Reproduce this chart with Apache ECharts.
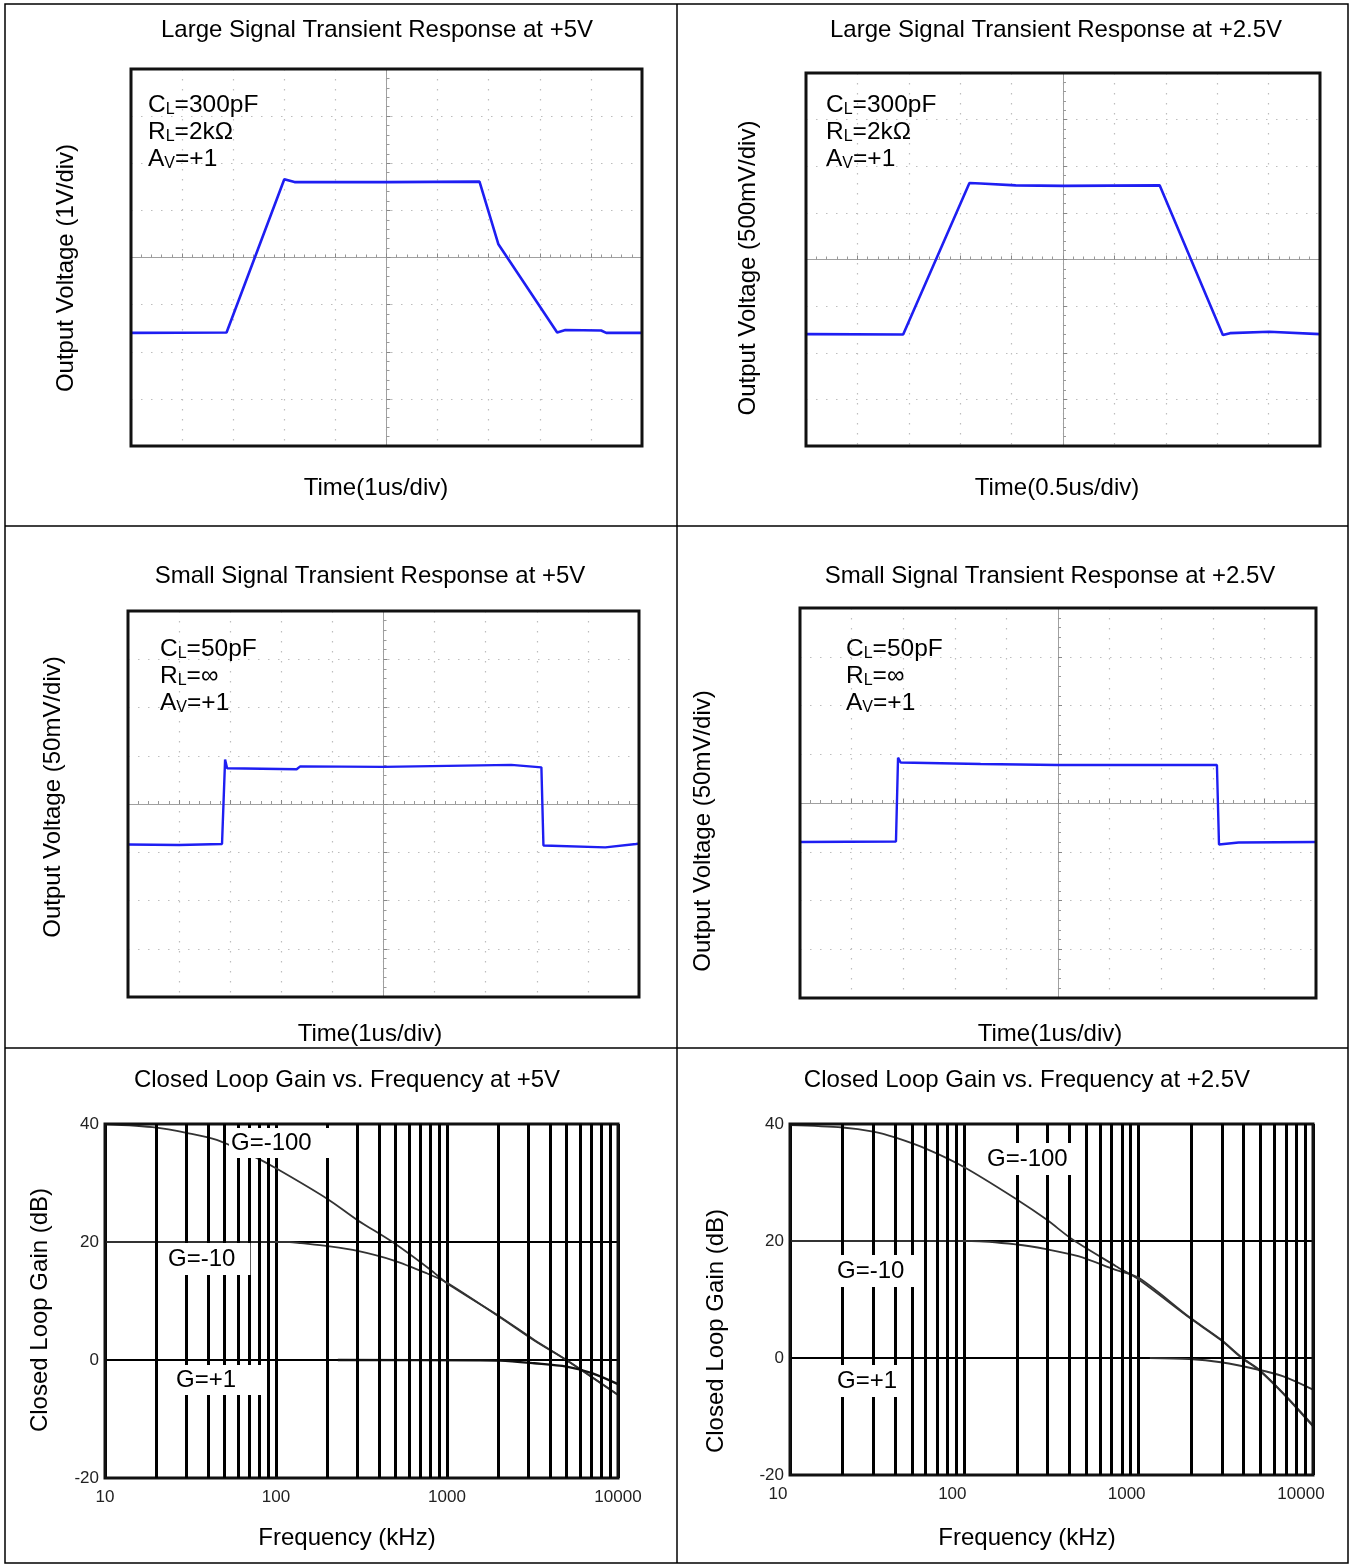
<!DOCTYPE html>
<html>
<head>
<meta charset="utf-8">
<script src="https://cdn.jsdelivr.net/npm/echarts@6.0.0/dist/echarts.min.js"></script>
<style>
  html, body { margin: 0; background: #fff; }
  #chart { width: 1349px; height: 1564px; }
</style>
</head>
<body>
<div id="chart"></div>
<script>
// scope traces, in screen divisions measured from the centre of the screen
const largeTrace5V = [[-5, -1.6], [-3.13, -1.59], [-2.0, 1.66], [-1.8, 1.6], [0, 1.6], [1.82, 1.61], [2.19, 0.28], [3.34, -1.59], [3.5, -1.54], [4.2, -1.55], [4.3, -1.6], [5, -1.6]];
const largeTrace25V = [[-5, -1.6], [-3.11, -1.61], [-1.82, 1.64], [-1.6, 1.63], [-0.92, 1.59], [0, 1.58], [1.88, 1.59], [3.11, -1.62], [3.25, -1.58], [4.01, -1.55], [5, -1.6]];
const smallTrace5V = [[-5, -0.84], [-4, -0.85], [-3.16, -0.83], [-3.1, 0.92], [-3.06, 0.74], [-1.7, 0.72], [-1.63, 0.78], [0, 0.77], [2.5, 0.81], [3.09, 0.76], [3.13, -0.86], [4.34, -0.9], [4.94, -0.83], [5, -0.82]];
const smallTrace25V = [[-5, -0.8], [-3.14, -0.79], [-3.1, 0.93], [-3.05, 0.83], [-1.5, 0.8], [0, 0.78], [3.08, 0.78], [3.12, -0.85], [3.5, -0.81], [5, -0.8]];

// closed loop gain, [frequency kHz, gain dB]
const gain5V_G100 = [[10, 40], [20, 39.4], [30, 38.5], [45, 37.3], [73, 34.6], [100, 32.5], [200, 27.3], [300, 23.7], [485, 19.9], [800, 15.3], [1000, 13.0], [2050, 7.3], [3240, 3.4], [5000, 0], [10000, -5.9]];
const gain5V_G10 = [[10, 20], [120, 20], [140, 19.8], [200, 19.3], [300, 18.5], [485, 16.9], [760, 14.7], [1000, 13.1], [2050, 7.2], [3240, 3.3], [5000, -0.05], [10000, -5.95]];
const gain5V_G1 = [[230, 0], [1500, -0.05], [2050, -0.1], [3240, -0.56], [5000, -1.13], [7100, -2.26], [10000, -4.1]];
const gain25V_G100 = [[10, 39.8], [20, 39.4], [30, 38.7], [40, 37.7], [61, 35.7], [100, 32.6], [200, 27.1], [295, 23.7], [420, 20.2], [741, 15.7], [1000, 13.4], [1950, 6.9], [2950, 3.1], [3900, 0], [4870, -2], [6700, -6], [10000, -11.7]];
const gain25V_G10 = [[10, 20], [110, 20], [200, 19.4], [295, 18.6], [450, 17.4], [730, 15.1], [1000, 13.7], [1950, 7.0], [2950, 3.2], [3900, 0.1], [4870, -1.9], [6700, -5.9], [10000, -11.5]];
const gain25V_G1 = [[1160, 0], [1950, -0.17], [2960, -0.74], [4870, -2.0], [6700, -3.1], [10000, -5.4]];

const logGridLines = [20, 30, 40, 50, 60, 70, 80, 90, 200, 300, 400, 500, 600, 700, 800, 900, 2000, 3000, 4000, 5000, 6000, 7000, 8000, 9000];
const freqTicks = [10, 100, 1000, 10000];

const FONT = '"Liberation Sans", Arial, sans-serif';
const BLUE = '#1e1ef2';
const BIG = 24;

const chart = echarts.init(document.getElementById('chart'));

const grids = [
  { left: 131, top: 69, width: 511, height: 377 },
  { left: 806, top: 73, width: 514, height: 373 },
  { left: 128, top: 611, width: 511, height: 386 },
  { left: 800, top: 608, width: 516, height: 390 },
  { left: 105, top: 1124, width: 513, height: 354 },
  { left: 790, top: 1124, width: 523, height: 351 }
].map(g => Object.assign({ show: true, borderColor: '#111', borderWidth: 3, backgroundColor: 'transparent', z: 4 }, g));

function scopeAxis(i, half) {
  return {
    gridIndex: i, type: 'value', min: -half, max: half, interval: 1,
    axisLabel: { show: false },
    axisLine: { onZero: true, lineStyle: { color: '#a0a0a0', width: 1 } },
    axisTick: { show: true, inside: true, length: 4, lineStyle: { color: '#888' } },
    minorTick: { show: true, splitNumber: 5, length: 3, lineStyle: { color: '#999' } },
    splitLine: { show: true, showMinLine: false, showMaxLine: false, lineStyle: { color: '#bdbdbd', type: [1.5, 8.5], width: 1.2 } }
  };
}

function freqAxis(i, shift) {
  return {
    gridIndex: i, type: 'log', logBase: 10, min: 10, max: 10000,
    axisLine: { show: false }, axisTick: { show: false },
    axisLabel: {
      fontSize: 17, color: '#222', fontFamily: FONT, margin: 11,
      padding: [0, shift, 0, 0],
      formatter: v => String(freqTicks.find(t => Math.abs(t - v) < 1) || Math.round(v))
    },
    splitLine: { show: true, lineStyle: { color: '#000', width: 3 } }
  };
}

function gainAxis(i) {
  return {
    gridIndex: i, type: 'value', min: -20, max: 40, interval: 20,
    axisLine: { show: false }, axisTick: { show: false },
    axisLabel: { fontSize: 17, color: '#222', fontFamily: FONT, margin: 6 },
    splitLine: { show: true, lineStyle: { color: '#000', width: 2 } }
  };
}

function trace(i, data, width) {
  return {
    type: 'line', xAxisIndex: i, yAxisIndex: i, data: data,
    showSymbol: false, symbol: 'none', z: 3,
    lineStyle: { color: BLUE, width: width }
  };
}

function gridLines(i) {
  return {
    type: 'line', xAxisIndex: i, yAxisIndex: i, data: [], z: 2,
    markLine: {
      silent: true, symbol: ['none', 'none'], animation: false,
      label: { show: false },
      lineStyle: { color: '#000', width: 3, type: 'solid' },
      data: logGridLines.map(v => ({ xAxis: v }))
    }
  };
}

function curve(i, data, width, color) {
  return {
    type: 'line', xAxisIndex: i, yAxisIndex: i, data: data,
    showSymbol: false, symbol: 'none', smooth: 0.3, z: 3,
    lineStyle: { color: color, width: width }
  };
}

function text(x, y, s, size, extra) {
  return Object.assign({
    type: 'text', x: x, y: y, z: 100,
    style: Object.assign({
      text: s, font: size + 'px ' + FONT, fill: '#000',
      align: 'center', verticalAlign: 'middle', textAlign: 'center', textVerticalAlign: 'middle'
    }, extra && extra.style)
  }, extra && extra.el);
}

function note(x, y, lines) {
  const rich = {
    a: { fontSize: 24.5, fontFamily: FONT, lineHeight: 27, verticalAlign: 'bottom', fill: '#000', color: '#000' },
    s: { fontSize: 16, fontFamily: FONT, lineHeight: 21, verticalAlign: 'bottom', fill: '#000', color: '#000' }
  };
  return {
    type: 'text', x: x, y: y, z: 100,
    style: {
      text: lines.map(l => '{a|' + l[0] + '}{s|' + l[1] + '}{a|' + l[2] + '}').join('\n'),
      rich: rich, fill: '#000', align: 'left', verticalAlign: 'top', textAlign: 'left', textVerticalAlign: 'top'
    }
  };
}

function tag(x, y, s, pad) {
  return text(x, y, s, BIG, { style: { align: 'left', textAlign: 'left', backgroundColor: '#fff', padding: pad } });
}

const vert = { el: { rotation: Math.PI / 2 } };

const graphics = [
  { type: 'rect', z: 100, shape: { x: 5, y: 4, width: 1343, height: 1559 }, style: { fill: 'none', stroke: '#000', lineWidth: 1.5 } },
  { type: 'line', z: 100, shape: { x1: 677, y1: 4, x2: 677, y2: 1563 }, style: { stroke: '#000', lineWidth: 1.5 } },
  { type: 'line', z: 100, shape: { x1: 5, y1: 526, x2: 1348, y2: 526 }, style: { stroke: '#000', lineWidth: 1.5 } },
  { type: 'line', z: 100, shape: { x1: 5, y1: 1048, x2: 1348, y2: 1048 }, style: { stroke: '#000', lineWidth: 1.5 } },

  text(377, 30, 'Large Signal Transient Response at +5V', BIG),
  text(1056, 30, 'Large Signal Transient Response at +2.5V', BIG),
  text(370, 576, 'Small Signal Transient Response at +5V', BIG),
  text(1050, 576, 'Small Signal Transient Response at +2.5V', BIG),
  text(347, 1080, 'Closed Loop Gain vs. Frequency at +5V', BIG),
  text(1027, 1080, 'Closed Loop Gain vs. Frequency at +2.5V', BIG),

  text(376, 488, 'Time(1us/div)', BIG),
  text(1057, 488, 'Time(0.5us/div)', BIG),
  text(370, 1034, 'Time(1us/div)', BIG),
  text(1050, 1034, 'Time(1us/div)', BIG),
  text(347, 1538, 'Frequency (kHz)', BIG),
  text(1027, 1538, 'Frequency (kHz)', BIG),

  text(66, 268, 'Output Voltage (1V/div)', BIG, vert),
  text(748, 268, 'Output Voltage (500mV/div)', BIG, vert),
  text(53, 797, 'Output Voltage (50mV/div)', BIG, vert),
  text(703, 831, 'Output Voltage (50mV/div)', BIG, vert),
  text(40, 1310, 'Closed Loop Gain (dB)', BIG, vert),
  text(716, 1331, 'Closed Loop Gain (dB)', BIG, vert),

  note(148, 91, [['C', 'L', '=300pF'], ['R', 'L', '=2kΩ'], ['A', 'V', '=+1']]),
  note(826, 91, [['C', 'L', '=300pF'], ['R', 'L', '=2kΩ'], ['A', 'V', '=+1']]),
  note(160, 635, [['C', 'L', '=50pF'], ['R', 'L', '=∞'], ['A', 'V', '=+1']]),
  note(846, 635, [['C', 'L', '=50pF'], ['R', 'L', '=∞'], ['A', 'V', '=+1']]),

  tag(229, 1143, 'G=-100', [3, 18, 3, 2]),
  tag(166, 1259, 'G=-10', [4, 15, 4, 2]),
  tag(172, 1380, 'G=+1', [3, 27, 3, 4]),
  tag(983, 1159, 'G=-100', [4, 15, 4, 4]),
  tag(833, 1271, 'G=-10', [4, 19, 4, 4]),
  tag(833, 1381, 'G=+1', [4, 9, 4, 4])
];

chart.setOption({
  animation: false,
  backgroundColor: '#fff',
  grid: grids,
  xAxis: [scopeAxis(0, 5), scopeAxis(1, 5), scopeAxis(2, 5), scopeAxis(3, 5), freqAxis(4, 0), freqAxis(5, 24)],
  yAxis: [scopeAxis(0, 4), scopeAxis(1, 4), scopeAxis(2, 4), scopeAxis(3, 4), gainAxis(4), gainAxis(5)],
  series: [
    trace(0, largeTrace5V, 2.6),
    trace(1, largeTrace25V, 2.6),
    trace(2, smallTrace5V, 2.4),
    trace(3, smallTrace25V, 2.4),
    gridLines(4),
    curve(4, gain5V_G100, 1.8, '#333'),
    curve(4, gain5V_G10, 1.8, '#333'),
    curve(4, gain5V_G1, 2.4, '#111'),
    gridLines(5),
    curve(5, gain25V_G100, 1.8, '#333'),
    curve(5, gain25V_G10, 1.8, '#333'),
    curve(5, gain25V_G1, 2, '#333')
  ],
  graphic: { elements: graphics }
});
</script>
</body>
</html>
